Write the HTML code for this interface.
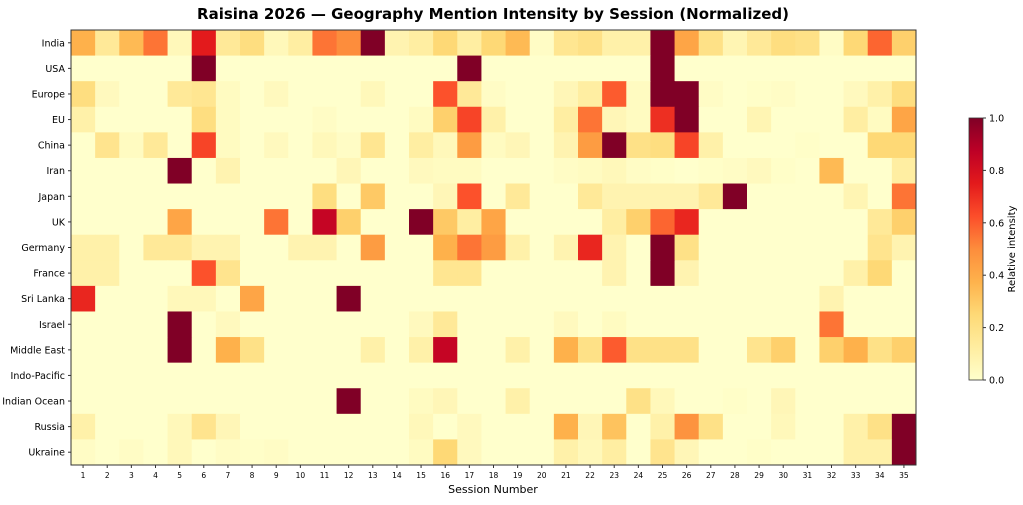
<!DOCTYPE html>
<html><head><meta charset="utf-8"><style>
body{margin:0;background:#fff;font-family:"Liberation Sans","DejaVu Sans",sans-serif}
</style></head><body>
<svg id="chart" width="1023" height="500" xmlns="http://www.w3.org/2000/svg" font-family="'DejaVu Sans','Liberation Sans',sans-serif">
<defs><linearGradient id="cbg" x1="0" y1="1" x2="0" y2="0">
<stop offset="0" stop-color="#ffffcc"/><stop offset="0.125" stop-color="#ffeda0"/><stop offset="0.25" stop-color="#fed976"/><stop offset="0.375" stop-color="#feb24c"/><stop offset="0.5" stop-color="#fd8d3c"/><stop offset="0.625" stop-color="#fc4e2a"/><stop offset="0.75" stop-color="#e31a1c"/><stop offset="0.875" stop-color="#bd0026"/><stop offset="1" stop-color="#800026"/></linearGradient></defs>
<text x="493" y="19" text-anchor="middle" font-size="15" font-weight="bold">Raisina 2026 — Geography Mention Intensity by Session (Normalized)</text>
<g id="cells"></g><g id="yt"></g><g id="xt"></g>
<rect x="71" y="30" width="845" height="435" fill="none" stroke="#333" stroke-width="1"/>
<text x="493" y="493" text-anchor="middle" font-size="11">Session Number</text>
<rect x="969" y="118" width="14" height="262" fill="url(#cbg)" stroke="#333" stroke-width="0.8"/>
<g id="cbt"></g>
<text transform="translate(1015,249) rotate(-90)" text-anchor="middle" font-size="10">Relative intensity</text>
</svg>
<script>
const rows=["India","USA","Europe","EU","China","Iran","Japan","UK","Germany","France","Sri Lanka","Israel","Middle East","Indo-Pacific","Indian Ocean","Russia","Ukraine"];
const sessions=Array.from({length:35},(_,i)=>String(i+1));
const cbTicks=[0,0.2,0.4,0.6,0.8,1.0];
const vIndia=[0.38,0.15,0.35,0.55,0.05,0.75,0.15,0.22,0.05,0.12,0.55,0.5,1,0.08,0.12,0.25,0.12,0.25,0.35,0.02,0.17,0.2,0.1,0.1,1,0.42,0.2,0.07,0.15,0.22,0.2,0.02,0.25,0.58,0.28];
const vUSA=[0,0,0,0,0,1,0,0,0,0,0,0,0,0,0,0,1,0,0,0,0,0,0,0,1,0,0,0,0,0,0,0,0,0,0];
const vEurope=[0.22,0.04,0,0,0.15,0.17,0.03,0,0.04,0,0,0,0.05,0,0,0.62,0.15,0.02,0,0,0.06,0.12,0.6,0.03,1,1,0.02,0,0.01,0.02,0,0,0.04,0.1,0.22];
const vEU=[0.1,0,0,0,0,0.22,0.03,0,0,0,0.02,0,0,0,0.03,0.28,0.65,0.1,0,0,0.12,0.55,0.06,0.03,0.7,1,0,0,0.07,0,0,0,0.12,0.03,0.42];
const vChina=[0,0.18,0.03,0.15,0,0.65,0.03,0,0.04,0,0.05,0.02,0.17,0,0.12,0.05,0.45,0.03,0.06,0,0.08,0.45,1,0.2,0.22,0.65,0.1,0,0,0,0.01,0,0,0.25,0.25];
const vIran=[0,0,0,0,1,0,0.08,0,0,0,0,0.06,0,0,0.04,0.03,0.03,0,0,0,0.02,0.03,0.05,0.02,0.01,0,0.01,0.02,0.04,0.01,0,0.35,0,0,0.12];
const vJapan=[0,0,0,0,0,0,0,0,0,0,0.22,0,0.3,0,0,0.06,0.62,0,0.15,0,0,0.15,0.08,0.08,0.08,0.08,0.15,1,0,0,0,0,0.07,0,0.55];
const vUK=[0,0,0,0,0.42,0,0,0,0.55,0,0.85,0.28,0,0,1,0.3,0.12,0.42,0,0,0,0,0.12,0.28,0.58,0.72,0,0,0,0,0,0,0,0.15,0.28];
const vGermany=[0.1,0.1,0,0.15,0.15,0.08,0.08,0,0,0.08,0.08,0,0.45,0,0,0.38,0.55,0.45,0.1,0,0.08,0.72,0.08,0,1,0.2,0,0,0,0,0,0,0,0.18,0.08];
const vFrance=[0.1,0.1,0,0,0,0.62,0.18,0,0,0,0,0,0,0,0,0.17,0.17,0,0,0,0,0,0.08,0,1,0.08,0,0,0,0,0,0,0.1,0.25,0];
const vSriLanka=[0.72,0,0,0,0.05,0.05,0,0.42,0,0,0,1,0,0,0,0,0,0,0,0,0,0,0,0,0,0,0,0,0,0,0,0.08,0,0,0];
const vIsrael=[0,0,0,0,1,0,0.04,0,0,0,0,0,0,0,0.04,0.15,0,0,0,0,0.04,0,0.03,0,0,0,0,0,0,0,0,0.55,0,0,0];
const vMiddleEast=[0,0,0,0,1,0,0.38,0.2,0,0,0,0,0.1,0,0.1,0.85,0,0,0.1,0,0.38,0.2,0.6,0.2,0.2,0.2,0,0,0.18,0.28,0,0.28,0.38,0.2,0.28];
const vIndoPacific=[0,0,0,0,0,0,0,0,0,0,0,0,0,0,0,0,0,0,0,0,0,0,0,0,0,0,0,0,0,0,0,0,0,0,0];
const vIndianOcean=[0,0,0,0,0,0,0,0,0,0,0,1,0,0,0.03,0.06,0,0,0.1,0,0,0,0,0.2,0.05,0,0,0.01,0,0.06,0,0,0,0,0];
const vRussia=[0.1,0,0,0,0.05,0.18,0.06,0,0,0,0,0,0,0,0.05,0,0.04,0,0,0,0.38,0.06,0.32,0,0.1,0.48,0.2,0,0,0.05,0,0,0.1,0.2,1];
const vUkraine=[0.02,0,0.02,0,0.05,0,0.02,0.01,0.02,0,0,0,0,0,0.03,0.25,0.04,0,0,0,0.1,0.05,0.12,0,0.18,0.06,0,0,0.01,0,0,0,0.1,0.1,1];
const values=[vIndia,vUSA,vEurope,vEU,vChina,vIran,vJapan,vUK,vGermany,vFrance,vSriLanka,vIsrael,vMiddleEast,vIndoPacific,vIndianOcean,vRussia,vUkraine];

const NS="http://www.w3.org/2000/svg";
const X0=71,X1=916,Y0=30,Y1=465;
const cw=(X1-X0)/sessions.length, rh=(Y1-Y0)/rows.length;
const xPos=i=>X0+i*cw, yPos=j=>Y0+j*rh;
const stops=[[255,255,204],[255,237,160],[254,217,118],[254,178,76],[253,141,60],[252,78,42],[227,26,28],[189,0,38],[128,0,38]];
function cmap(v){v=Math.max(0,Math.min(1,v));const t=v*8,i=Math.min(7,Math.floor(t)),f=t-i;const a=stops[i],b=stops[i+1];return `rgb(${a.map((c,k)=>Math.round(c+(b[k]-c)*f)).join(",")})`;}
function el(tag,attrs,parent,text){const e=document.createElementNS(NS,tag);for(const k in attrs)e.setAttribute(k,attrs[k]);if(text!==undefined)e.textContent=text;parent.appendChild(e);return e;}
const cells=document.getElementById("cells");
values.forEach((row,j)=>row.forEach((v,i)=>{
  const r=el("rect",{x:xPos(i),y:yPos(j),width:cw+0.5,height:rh+0.5,fill:cmap(v)},cells);
  
  
}));
const yt=document.getElementById("yt");
rows.forEach((n,j)=>{
  const y=yPos(j)+rh/2;
  el("line",{x1:X0-3,x2:X0,y1:y,y2:y,stroke:"#333"},yt);
  const t=el("text",{x:X0-6,y:y+3.5,"text-anchor":"end","font-size":"9.5"},yt,n);
  
  
});
const xt=document.getElementById("xt");
sessions.forEach((n,i)=>{
  const x=xPos(i)+cw/2;
  el("line",{x1:x,x2:x,y1:Y1,y2:Y1+3,stroke:"#333"},xt);
  const t=el("text",{x:x,y:Y1+13,"text-anchor":"middle","font-size":"7.5"},xt,n);
  
  
});
const cbt=document.getElementById("cbt");
cbTicks.forEach(v=>{
  const y=380-v*262;
  el("line",{x1:983,x2:986,y1:y,y2:y,stroke:"#333"},cbt);
  const t=el("text",{x:989,y:y+3.5,"font-size":"9.5"},cbt,v.toFixed(1));
  
  
});
</script>
</body></html>
